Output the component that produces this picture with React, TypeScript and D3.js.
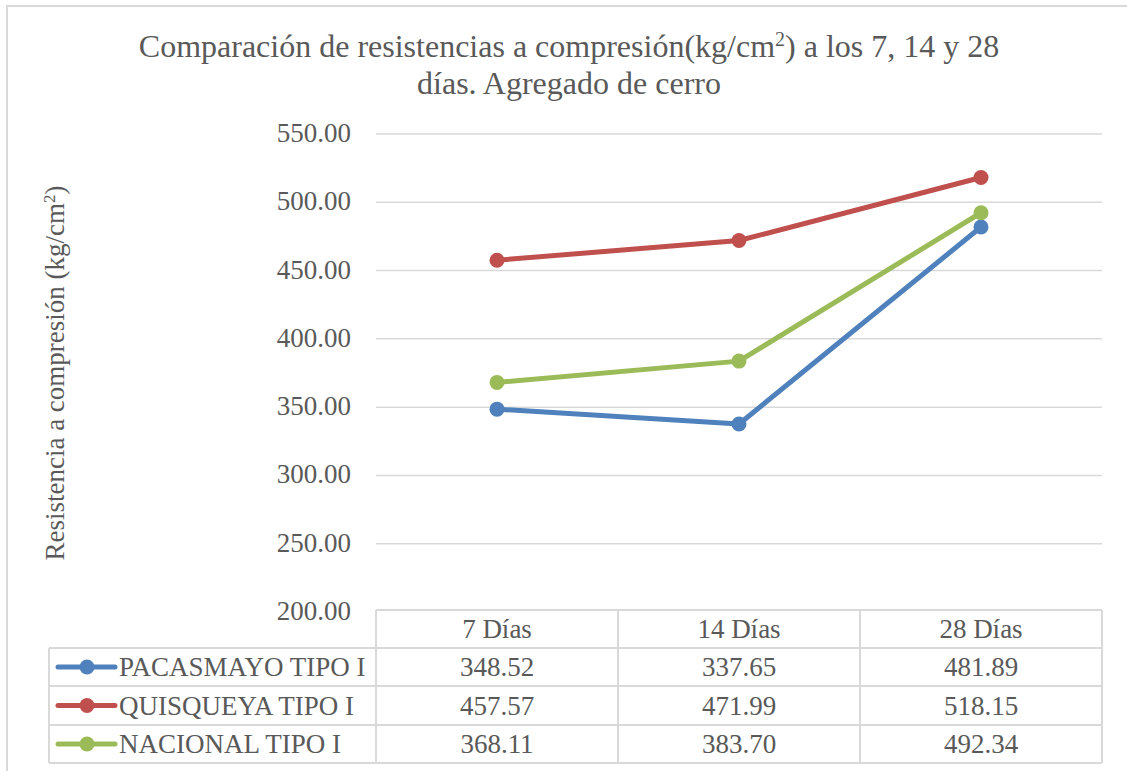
import React from "react";
import * as d3 from "d3";

const categories = ["7 Días", "14 Días", "28 Días"];
const seriesNames = ["PACASMAYO TIPO I", "QUISQUEYA TIPO I", "NACIONAL TIPO I"];
const pacasmayo = [348.52, 337.65, 481.89];
const quisqueya = [457.57, 471.99, 518.15];
const nacional = [368.11, 383.7, 492.34];
const yTicks = [200, 250, 300, 350, 400, 450, 500, 550];
const colors = ["#4F81BD", "#C0504D", "#9BBB59"];

const FONT = '"Liberation Serif", "Times New Roman", serif';
const TEXT = "#595959";
const GRID = "#D9D9D9";

export default function App() {
  const series = [pacasmayo, quisqueya, nacional];
  const left = 376;
  const right = 1102;
  const top = 134;
  const bottom = 612;
  const x = d3.scaleBand<string>().domain(categories).range([left, right]);
  const y = d3.scaleLinear().domain([200, 550]).range([bottom, top]);
  const cx = (c: string) => (x(c) as number) + x.bandwidth() / 2;
  const line = d3
    .line<number>()
    .x((_, i) => cx(categories[i]))
    .y((d) => y(d));

  const rowTop = [610, 648, 686, 725, 763];
  const legendLeft = 49;
  const ts = { fontFamily: FONT };
  const FS = 27;

  return (
    <svg
      width={1127}
      height={771}
      style={{ position: "absolute", left: 0, top: 0, background: "#fff", fontFamily: FONT }}
    >
      <rect x={0} y={0} width={1127} height={771} fill="#fff" />
      <rect x={7} y={6} width={1130} height={780} fill="none" stroke={GRID} strokeWidth={2} />
      <text x={569} y={57} textAnchor="middle" fontSize={32} fill={TEXT} style={ts}>
        Comparación de resistencias a compresión(kg/cm
        <tspan baselineShift="super" fontSize={20}>2</tspan>
        ) a los 7, 14 y 28
      </text>
      <text x={569} y={94} textAnchor="middle" fontSize={32} fill={TEXT} style={ts}>
        días. Agregado de cerro
      </text>

      {yTicks.map((t) => (
        <g key={t}>
          {t !== 200 && (
            <line x1={left} x2={right} y1={y(t)} y2={y(t)} stroke={GRID} strokeWidth={1.5} />
          )}
          <text x={351} y={y(t) + 8} textAnchor="end" fontSize={FS} fill={TEXT} style={ts}>
            {t.toFixed(2)}
          </text>
        </g>
      ))}

      <text
        transform={`translate(64,373) rotate(-90)`}
        textAnchor="middle"
        fontSize={FS}
        fill={TEXT}
        style={ts}
      >
        Resistencia a compresión (kg/cm
        <tspan baselineShift="super" fontSize={17}>2</tspan>)
      </text>

      {series.map((s, i) => (
        <g key={i}>
          <path d={line(s) || ""} fill="none" stroke={colors[i]} strokeWidth={5} strokeLinejoin="round" />
          {s.map((v, j) => (
            <circle key={j} cx={cx(categories[j])} cy={y(v)} r={7.5} fill={colors[i]} />
          ))}
        </g>
      ))}

      <g stroke={GRID} strokeWidth={2} fill="none">
        <line x1={left} x2={right} y1={rowTop[0]} y2={rowTop[0]} />
        {rowTop.slice(1).map((r, i) => (
          <line key={i} x1={legendLeft} x2={right} y1={r} y2={r} />
        ))}
        <line x1={legendLeft} x2={legendLeft} y1={rowTop[1]} y2={rowTop[4]} />
        {categories.map((c) => (
          <line key={c} x1={x(c) as number} x2={x(c) as number} y1={rowTop[0]} y2={rowTop[4]} />
        ))}
        <line x1={right} x2={right} y1={rowTop[0]} y2={rowTop[4]} />
      </g>
      {categories.map((c) => (
        <text
          key={c}
          x={cx(c)}
          y={(rowTop[0] + rowTop[1]) / 2 + 9}
          textAnchor="middle"
          fontSize={FS}
          fill={TEXT}
          style={ts}
        >
          {c}
        </text>
      ))}
      {series.map((s, i) => {
        const cyy = (rowTop[i + 1] + rowTop[i + 2]) / 2;
        return (
          <g key={i}>
            <line x1={58} x2={115} y1={cyy} y2={cyy} stroke={colors[i]} strokeWidth={5} strokeLinecap="round" />
            <circle cx={87} cy={cyy} r={7.5} fill={colors[i]} />
            <text x={119} y={cyy + 9} fontSize={FS} fill={TEXT} style={ts}>
              {seriesNames[i]}
            </text>
            {s.map((v, j) => (
              <text
                key={j}
                x={cx(categories[j])}
                y={cyy + 9}
                textAnchor="middle"
                fontSize={FS}
                fill={TEXT}
                style={ts}
              >
                {v.toFixed(2)}
              </text>
            ))}
          </g>
        );
      })}
    </svg>
  );
}
